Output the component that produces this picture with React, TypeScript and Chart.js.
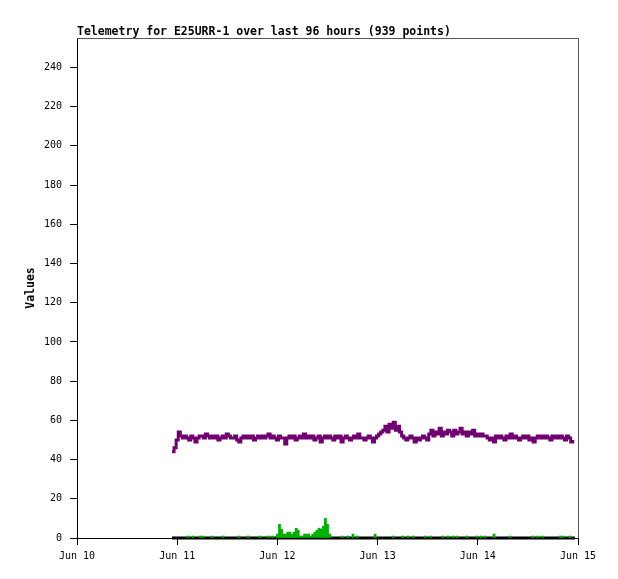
import React, { useEffect, useRef } from "react";
import { Chart, registerables } from "chart.js";

Chart.register(...registerables);

// Hours since Jun 10 00:00
const dayLabels = ["Jun 10", "Jun 11", "Jun 12", "Jun 13", "Jun 14", "Jun 15"];
const xTickHours = [0, 24, 48, 72, 96, 120];
const yTickValues = [0, 20, 40, 60, 80, 100, 120, 140, 160, 180, 200, 220, 240];

const seriesStartHour = 22.75;
const seriesStepHours = 0.5;

// purple channel
const purpleValues = [
  44, 46, 50, 54,
  52, 51, 52, 51, 50, 52, 51, 49, 51, 52, 52, 51, 53, 52, 51, 52, 51, 52, 50, 51, 52, 51, 53, 52, 51, 51, 52, 50, 49, 51, 52, 51, 52, 51, 52, 50, 51, 52, 51, 52, 51, 52, 53, 51, 52, 51, 50,
  52, 51, 51, 48, 51, 52, 51, 52, 50, 51, 52, 51, 53, 51, 52, 51, 52, 50, 51, 52, 49, 51, 52, 51, 52, 51, 50, 52, 51, 52, 49, 51, 52, 51, 50, 51, 52, 51, 53, 51, 51, 50, 51, 52, 51, 49, 51,
  52, 53, 54,
  55, 57, 54, 58, 56, 59, 55, 57, 54,
  52, 51, 50, 51, 52, 51, 49, 51, 50, 51, 52, 51, 50,
  53, 55, 52, 54, 53, 56, 52, 54, 53, 55, 54, 52, 55, 53, 54, 56, 53, 54, 52,
  54, 53, 55, 52, 53, 52, 53, 52,
  52, 51, 50, 51, 49, 52, 51, 52, 51, 50, 52, 51, 53, 51, 52, 51, 50, 51, 52, 51, 52, 50, 51, 49, 51, 52, 51, 52, 51, 52, 51, 50, 52, 51, 52, 51, 52, 51, 50, 52, 51, 49, 50,
];

// black channel (flat zero)
const blackHours = [22.75, 119.25];
const blackValues = [0, 0];

// green channel (non-zero readings)
const greenHours = [
  26.6, 27.8, 29.5, 30.2, 32.3, 35.0, 38.8, 41.0, 43.8, 45.7, 46.7,
  48.0, 48.5, 49.0, 49.5, 50.0, 50.5, 51.0, 51.5, 52.0, 52.5, 53.0, 53.5, 54.0, 54.5, 55.0, 55.5, 56.0, 56.5, 57.0, 57.5, 58.0, 58.5, 59.0, 59.5, 60.0, 60.5,
  63.5, 64.9, 66.1, 67.1, 71.4, 75.7, 78.1, 79.3, 80.5, 83.4, 84.6, 87.7, 88.9, 90.1, 91.0, 93.4, 95.8, 96.8, 97.7, 99.9, 103.7, 109.2, 110.4, 111.6, 115.7, 116.4, 118.1,
];
const greenValues = [
  1, 1, 1, 1, 1, 1, 1, 1, 1, 1, 1,
  2, 7, 4.5, 2, 2, 3, 3, 2, 3, 5, 4, 1, 1, 2, 2, 2, 1, 2, 3, 4, 5, 4.5, 6, 10, 7, 2,
  1, 1, 2, 1, 2, 1, 1, 1, 1, 1, 1, 1, 1, 1, 1, 1, 1, 1, 1, 2, 1, 1, 1, 1, 1, 1, 1,
];

const TITLE = "Telemetry for E25URR-1 over last 96 hours (939 points)";
const Y_TITLE = "Values";
const MONO = "'DejaVu Sans Mono', monospace";

export default function App() {
  const ref = useRef<HTMLCanvasElement | null>(null);
  useEffect(() => {
    if (!ref.current) return;
    const purple = purpleValues.map((v, i) => ({ x: seriesStartHour + i * seriesStepHours, y: v }));
    const green = greenValues.map((v, i) => ({ x: greenHours[i], y: v }));
    const black = blackValues.map((v, i) => ({ x: blackHours[i], y: v }));

    const framePlugin = {
      id: "frame",
      afterDraw(chart: any) {
        const { ctx, chartArea } = chart;
        ctx.save();
        ctx.strokeStyle = "#555";
        ctx.lineWidth = 1;
        ctx.beginPath();
        ctx.moveTo(chartArea.left, chartArea.top + 0.5);
        ctx.lineTo(chartArea.right + 0.5, chartArea.top + 0.5);
        ctx.lineTo(chartArea.right + 0.5, chartArea.bottom);
        ctx.stroke();
        ctx.fillStyle = "#000";
        ctx.font = "bold 11.5px " + MONO;
        ctx.textAlign = "left";
        ctx.textBaseline = "alphabetic";
        ctx.fillText(TITLE, chartArea.left, 35);
        ctx.translate(31, (chartArea.top + chartArea.bottom) / 2);
        ctx.rotate(-Math.PI / 2);
        ctx.textAlign = "center";
        ctx.textBaseline = "middle";
        ctx.fillText(Y_TITLE, 0, 0);
        ctx.restore();
      },
    };

    const chart = new Chart(ref.current, {
      type: "line",
      data: {
        datasets: [
          {
            type: "line",
            data: purple,
            borderColor: "#700070",
            borderWidth: 3,
            pointRadius: 0,
            stepped: true,
            order: 1,
          } as any,
          {
            type: "line",
            data: black,
            borderColor: "#000",
            borderWidth: 3,
            pointRadius: 0,
            clip: false,
            order: 3,
          } as any,
          {
            type: "bar",
            data: green,
            backgroundColor: "#00b000",
            borderWidth: 0,
            barThickness: 2.1,
            order: 2,
          } as any,
        ],
      },
      options: {
        responsive: false,
        animation: false,
        layout: { padding: { left: 0, right: 40, top: 38, bottom: 0 } },
        plugins: { legend: { display: false }, tooltip: { enabled: false }, title: { display: false } },
        scales: {
          x: {
            type: "linear",
            min: 0,
            max: 120,
            offset: false,
            afterFit: (s: any) => { s.height = 41; },
            afterBuildTicks: (s: any) => { s.ticks = xTickHours.map((v) => ({ value: v })); },
            ticks: {
              autoSkip: false,
              maxRotation: 0,
              padding: 5,
              color: "#000",
              font: { family: MONO, size: 10 },
              callback: (v: any) => dayLabels[xTickHours.indexOf(Number(v))],
            },
            grid: { offset: false, drawOnChartArea: false, drawTicks: true, tickLength: 7, color: "#000" },
            border: { display: true, color: "#000" },
          },
          y: {
            type: "linear",
            min: 0,
            max: 255,
            afterFit: (s: any) => { s.width = 77; },
            afterBuildTicks: (s: any) => { s.ticks = yTickValues.map((v) => ({ value: v })); },
            ticks: {
              padding: 8,
              color: "#000",
              font: { family: MONO, size: 10 },
            },
            grid: { drawOnChartArea: false, drawTicks: true, tickLength: 7, color: "#000" },
            border: { display: true, color: "#000" },
          },
        },
      },
      plugins: [framePlugin],
    } as any);
    return () => chart.destroy();
  }, []);
  return (
    <div style={{ position: "absolute", left: 0, top: 0, width: 618, height: 579, background: "#fff" }}>
      <canvas ref={ref} width={618} height={579} style={{ width: 618, height: 579, display: "block" }} />
    </div>
  );
}
